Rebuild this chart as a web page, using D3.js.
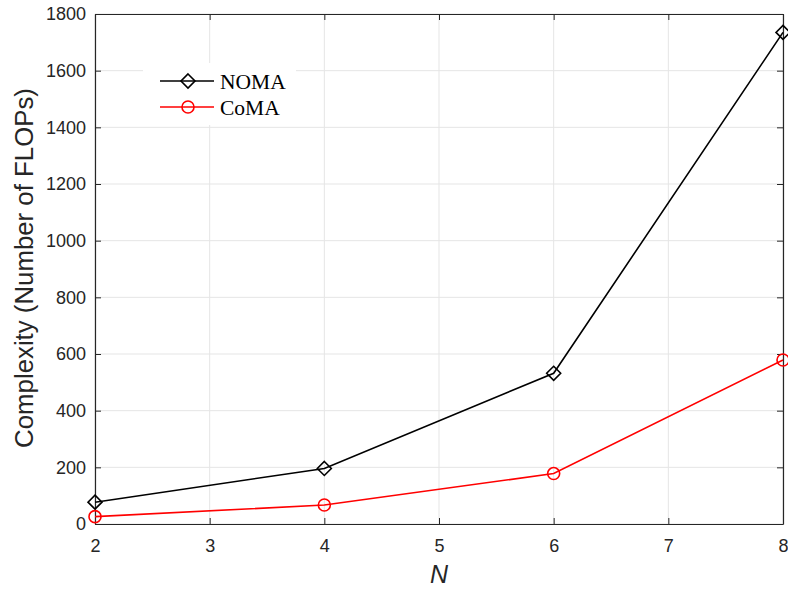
<!DOCTYPE html>
<html>
<head>
<meta charset="utf-8">
<script src="https://cdn.jsdelivr.net/npm/d3@7"></script>
<style>
  body { margin: 0; background: #fff; }
  svg { display: block; }
</style>
</head>
<body>
<div id="chart"></div>
<script>
const xValues = [2, 4, 6, 8];
const nomaValues = [77, 196, 532, 1735];
const comaValues = [26, 67, 178, 579];
const xTicks = [2, 3, 4, 5, 6, 7, 8];
const yTicks = [0, 200, 400, 600, 800, 1000, 1200, 1400, 1600, 1800];
const seriesNames = ["NOMA", "CoMA"];

const margin = {top: 14, right: 5, bottom: 66, left: 95},
    width = 788 - margin.left - margin.right,
    height = 590 - margin.top - margin.bottom;

const svg = d3.select("#chart")
    .append("svg")
    .attr("width", 788)
    .attr("height", 590)
    .append("g")
    .attr("transform", `translate(${margin.left}, ${margin.top})`);

const x = d3.scaleLinear().domain([2, 8]).range([0, width]);
const y = d3.scaleLinear().domain([0, 1800]).range([height, 0]);

const axisColor = "#262626";
const fmt = d3.format("d");

// grid
svg.append("g")
    .selectAll("line")
    .data(xTicks)
    .join("line")
    .attr("x1", d => x(d)).attr("x2", d => x(d))
    .attr("y1", 0).attr("y2", height)
    .style("stroke", "#e5e5e5").style("stroke-width", 1);
svg.append("g")
    .selectAll("line")
    .data(yTicks)
    .join("line")
    .attr("x1", 0).attr("x2", width)
    .attr("y1", d => y(d)).attr("y2", d => y(d))
    .style("stroke", "#e5e5e5").style("stroke-width", 1);

// axes
const xAxis = svg.append("g")
    .attr("transform", `translate(0, ${height})`)
    .call(d3.axisBottom(x).tickValues(xTicks).tickFormat(fmt).tickSizeInner(-6).tickSizeOuter(0).tickPadding(15));
const xTop = svg.append("g")
    .call(d3.axisTop(x).tickValues(xTicks).tickSizeInner(-6).tickSizeOuter(0).tickFormat(""));
const yAxis = svg.append("g")
    .call(d3.axisLeft(y).tickValues(yTicks).tickFormat(fmt).tickSizeInner(-6).tickSizeOuter(0).tickPadding(9));
const yRight = svg.append("g")
    .attr("transform", `translate(${width}, 0)`)
    .call(d3.axisRight(y).tickValues(yTicks).tickSizeInner(-6).tickSizeOuter(0).tickFormat(""));

[xAxis, xTop, yAxis, yRight].forEach(a => {
    a.select(".domain").style("stroke", axisColor).style("stroke-width", 1.2);
    a.selectAll(".tick line").style("stroke", axisColor).style("stroke-width", 1);
    a.selectAll(".tick text")
        .style("font-family", "'Liberation Sans', Arial, sans-serif")
        .style("font-size", "18px")
        .style("fill", axisColor);
});

// axis labels
svg.append("text")
    .attr("x", width / 2)
    .attr("y", height + 59)
    .attr("text-anchor", "middle")
    .style("font-family", "'Liberation Sans', Arial, sans-serif")
    .style("font-style", "italic")
    .style("font-size", "25px")
    .style("fill", axisColor)
    .text("N");

svg.append("text")
    .attr("transform", `translate(${-62}, ${254}) rotate(-90)`)
    .attr("text-anchor", "middle")
    .style("font-family", "'Liberation Sans', Arial, sans-serif")
    .style("font-size", "25.8px")
    .style("fill", axisColor)
    .text("Complexity (Number of FLOPs)");

// lines
const line = d3.line()
    .x((d, i) => x(xValues[i]))
    .y(d => y(d));

svg.append("path")
    .datum(nomaValues)
    .attr("d", line)
    .style("fill", "none")
    .style("stroke", "#000")
    .style("stroke-width", 1.6);

svg.append("path")
    .datum(comaValues)
    .attr("d", line)
    .style("fill", "none")
    .style("stroke", "#ff0000")
    .style("stroke-width", 1.6);

// markers
const diamond = (cx, cy, r) => `M${cx},${cy - r}L${cx + r},${cy}L${cx},${cy + r}L${cx - r},${cy}Z`;

svg.append("g")
    .selectAll("path")
    .data(nomaValues)
    .join("path")
    .attr("d", (d, i) => diamond(x(xValues[i]), y(d), 7))
    .style("fill", "none")
    .style("stroke", "#000")
    .style("stroke-width", 1.6);

svg.append("g")
    .selectAll("circle")
    .data(comaValues)
    .join("circle")
    .attr("cx", (d, i) => x(xValues[i]))
    .attr("cy", d => y(d))
    .attr("r", 6)
    .style("fill", "none")
    .style("stroke", "#ff0000")
    .style("stroke-width", 1.6);

// legend
const legend = svg.append("g").attr("transform", `translate(${143 - margin.left}, ${63 - margin.top})`);
legend.append("rect")
    .attr("width", 153).attr("height", 62)
    .style("fill", "#fff");

const legendColors = ["#000", "#ff0000"];
seriesNames.forEach((name, i) => {
    const ly = 18 + i * 26;
    legend.append("line")
        .attr("x1", 17).attr("x2", 71)
        .attr("y1", ly).attr("y2", ly)
        .style("stroke", legendColors[i]).style("stroke-width", 1.6);
    if (i === 0) {
        legend.append("path")
            .attr("d", diamond(45, ly, 7))
            .style("fill", "none").style("stroke", "#000").style("stroke-width", 1.6);
    } else {
        legend.append("circle")
            .attr("cx", 45).attr("cy", ly).attr("r", 6)
            .style("fill", "none").style("stroke", "#ff0000").style("stroke-width", 1.6);
    }
    legend.append("text")
        .attr("x", 77)
        .attr("y", ly + 7.5)
        .style("font-family", "'Liberation Serif', 'Times New Roman', serif")
        .style("font-size", "21.5px")
        .style("fill", "#000")
        .text(name);
});
</script>
</body>
</html>
